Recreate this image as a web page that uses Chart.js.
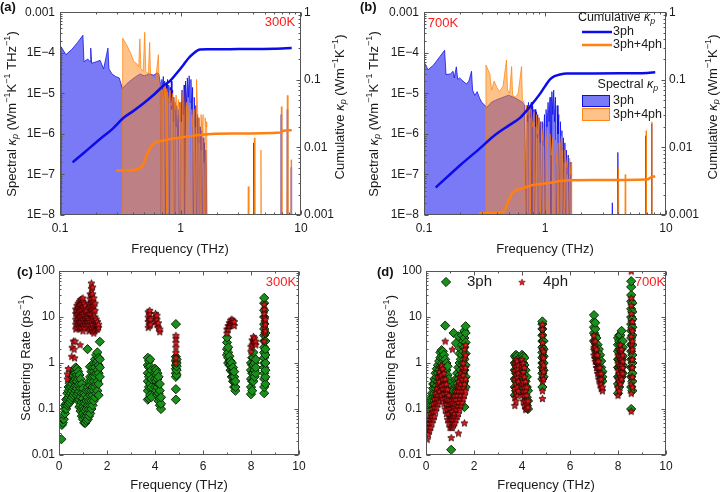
<!DOCTYPE html>
<html><head><meta charset="utf-8">
<style>
body{margin:0;width:720px;height:492px;position:relative;background:#fff;overflow:hidden;font-family:"Liberation Sans",Arial,sans-serif}
canvas{position:absolute}
.pl{position:absolute;font-weight:bold;font-size:13px;line-height:14px;color:#111}
</style>
<script src="https://cdn.jsdelivr.net/npm/chart.js@4.4.1/dist/chart.umd.min.js"></script>
</head><body>
<canvas id="ca" width="360" height="262" style="left:0;top:0"></canvas>
<canvas id="cb" width="360" height="262" style="left:360px;top:0"></canvas>
<canvas id="cc" width="360" height="242" style="left:0;top:250px"></canvas>
<canvas id="cd" width="360" height="242" style="left:360px;top:250px"></canvas>
<div class="pl" style="left:0;top:0">(a)</div>
<div class="pl" style="left:360px;top:0">(b)</div>
<div class="pl" style="left:17px;top:265px">(c)</div>
<div class="pl" style="left:377px;top:265px">(d)</div>
<script>
// ---------------- DATA ----------------
// Spectral kappa_p [frequency THz, Wm-1K-1THz-1] (1e-9 = below axis)
const specA_3ph = [[0.102,1e-9],[0.1021,1.4e-4],[0.112,9e-5],[0.125,1.2e-4],[0.14,1.8e-4],[0.155,2.7e-4],[0.158,6e-5],[0.17,7e-5],[0.178,6e-5],[0.18,1.3e-4],[0.183,5.5e-5],[0.2,6e-5],[0.215,6.5e-5],[0.23,4e-5],[0.25,1.3e-4],[0.255,4e-5],[0.27,3e-5],[0.29,2.6e-5],[0.31,2.4e-5],[0.33,1.3e-5],[0.35,1.6e-5],[0.38,2e-5],[0.42,2.5e-5],[0.46,3e-5],[0.5,2.7e-5],[0.55,3e-5],[0.6,2.8e-5],[0.64,3.2e-5],[0.66,3e-5],[0.68,1.8e-5],[0.69,1e-9],[0.70,2.2e-5],[0.71,1.2e-5],[0.72,2.6e-5],[0.73,8e-6],[0.74,2e-5],[0.75,1e-9],[0.76,1.8e-5],[0.77,1e-5],[0.78,2.2e-5],[0.79,6e-6],[0.80,1.6e-5],[0.81,1e-9],[0.82,1.4e-5],[0.83,6e-6],[0.84,2e-5],[0.85,4e-6],[0.86,1.2e-5],[0.87,2e-6],[0.88,8e-6],[0.89,1e-9],[0.90,6e-6],[0.92,1.5e-6],[0.93,5e-6],[0.95,8e-7],[0.96,4e-6],[0.98,1e-9],[0.99,6e-6],[1.01,2e-6],[1.03,1.2e-5],[1.05,3e-6],[1.07,1.6e-5],[1.08,1e-9],[1.10,2e-5],[1.12,5e-6],[1.14,2.4e-5],[1.16,8e-6],[1.18,2.7e-5],[1.20,6e-6],[1.22,2.2e-5],[1.24,3e-6],[1.26,1.4e-5],[1.28,1e-9],[1.30,8e-6],[1.32,1.5e-6],[1.34,5e-6],[1.36,1e-9],[1.38,3e-6],[1.40,6e-7],[1.42,2.5e-6],[1.44,1e-9],[1.46,1.5e-6],[1.48,4e-7],[1.50,1.2e-6],[1.52,1e-9],[1.54,8e-7],[1.56,2e-7],[1.58,6e-7],[1.60,1e-9],[1.62,4e-7],[1.64,1.5e-7],[1.66,1e-9],[4.0,1e-9],[4.05,6e-7],[4.1,1e-9],[6.8,1e-9],[6.85,3e-6],[6.9,1e-9],[7.65,1e-9],[7.7,4e-6],[7.75,1e-9],[8.25,1e-9],[8.3,1.5e-7],[8.35,1e-9]];
const specA_34 = [[0.33,1e-9],[0.331,2.3e-4],[0.36,1.5e-4],[0.39,9e-5],[0.41,6e-5],[0.43,5.5e-5],[0.45,4.5e-5],[0.46,2.2e-4],[0.47,4e-5],[0.49,3.5e-5],[0.505,3.2e-4],[0.515,3.5e-5],[0.54,3e-5],[0.555,1.8e-4],[0.565,2.8e-5],[0.59,2.5e-5],[0.62,2e-5],[0.655,9e-5],[0.665,1.8e-5],[0.68,1.5e-5],[0.70,1e-9],[0.71,1.2e-5],[0.73,1.6e-5],[0.74,8e-6],[0.76,1.3e-5],[0.77,1e-9],[0.78,1.1e-5],[0.80,6e-6],[0.82,1.2e-5],[0.84,5e-6],[0.86,1e-5],[0.87,1e-9],[0.88,8e-6],[0.90,4e-6],[0.92,9e-6],[0.94,3e-6],[0.96,7e-6],[0.98,2e-6],[1.00,6e-6],[1.02,1e-9],[1.04,8e-6],[1.06,1.5e-5],[1.08,3e-6],[1.10,1e-9],[1.12,6e-6],[1.15,2e-6],[1.18,5e-6],[1.21,1e-9],[1.24,4e-6],[1.27,1.5e-6],[1.30,4e-6],[1.33,1e-9],[1.36,2.2e-5],[1.39,3e-6],[1.42,2e-6],[1.45,1e-9],[1.48,3e-6],[1.51,1e-6],[1.54,3e-6],[1.57,1e-9],[1.60,2.5e-6],[1.63,1.5e-6],[1.65,2e-6],[1.66,1e-9],[3.6,1e-9],[3.65,5e-8],[3.7,1e-9],[4.05,1e-9],[4.1,8e-7],[4.15,1e-9],[4.6,1e-9],[4.65,4e-7],[4.7,1e-9],[6.8,1e-9],[6.87,4.7e-6],[6.95,1e-9],[7.6,1e-9],[7.7,8.9e-6],[7.8,1e-9],[8.25,1e-9],[8.3,2.3e-7],[8.35,1e-9]];
const specB_3ph = [[0.1,6e-5],[0.108,3.8e-5],[0.12,5e-5],[0.135,8e-5],[0.148,1.15e-4],[0.152,2.9e-5],[0.165,3e-5],[0.174,3.5e-5],[0.178,2.4e-5],[0.185,4.5e-5],[0.19,2.2e-5],[0.197,2.4e-5],[0.21,2e-5],[0.224,1.7e-5],[0.235,2e-5],[0.247,3.5e-5],[0.252,1.2e-5],[0.263,8.9e-6],[0.275,1.1e-5],[0.289,7.4e-6],[0.3,6e-6],[0.318,5.1e-6],[0.33,4.5e-6],[0.36,6e-6],[0.4,7e-6],[0.45,8e-6],[0.5,9e-6],[0.55,8e-6],[0.6,7e-6],[0.65,6e-6],[0.68,5e-6],[0.70,1e-9],[0.71,5e-6],[0.72,2e-6],[0.73,6e-6],[0.74,1e-9],[0.75,5e-6],[0.76,2.5e-6],[0.77,6e-6],[0.78,1e-9],[0.79,5e-6],[0.80,2e-6],[0.81,4e-6],[0.82,1e-9],[0.83,4e-6],[0.84,1.5e-6],[0.85,3.5e-6],[0.86,8e-7],[0.87,3e-6],[0.88,1e-9],[0.89,2.5e-6],[0.91,6e-7],[0.92,2e-6],[0.94,1e-9],[0.95,2e-6],[0.97,5e-7],[0.99,3e-6],[1.00,1e-9],[1.02,4e-6],[1.04,1.5e-6],[1.06,6e-6],[1.08,2e-6],[1.10,8e-6],[1.12,1e-9],[1.14,1.1e-5],[1.16,3e-6],[1.18,1.2e-5],[1.20,2e-6],[1.22,8e-6],[1.24,1e-9],[1.26,5e-6],[1.28,1e-6],[1.30,3e-6],[1.32,1e-9],[1.34,2e-6],[1.36,4e-7],[1.38,1.2e-6],[1.40,1e-9],[1.42,8e-7],[1.44,2e-7],[1.46,6e-7],[1.48,1e-9],[1.50,4e-7],[1.53,1e-7],[1.56,3e-7],[1.58,1e-9],[1.61,2e-7],[1.64,8e-8],[1.66,1e-9],[3.55,1e-9],[3.6,2e-8],[3.65,1e-9],[3.95,1e-9],[4.0,3.5e-7],[4.05,1e-9],[6.75,1e-9],[6.8,9e-7],[6.85,1e-9],[7.55,1e-9],[7.6,1.8e-6],[7.65,1e-9]];
const specB_34 = [[0.32,1e-9],[0.325,5e-5],[0.35,3e-5],[0.362,1.2e-5],[0.38,2e-5],[0.4,1.4e-5],[0.42,1.1e-5],[0.45,1.5e-5],[0.48,6.6e-5],[0.49,1.2e-5],[0.51,1e-5],[0.53,4.6e-5],[0.54,9e-6],[0.57,8e-6],[0.6,1e-5],[0.64,4.6e-5],[0.65,7e-6],[0.67,6e-6],[0.69,1e-9],[0.70,5e-6],[0.72,3e-6],[0.74,5e-6],[0.75,1e-9],[0.77,4e-6],[0.79,1.5e-6],[0.81,3.5e-6],[0.83,1e-9],[0.85,3e-6],[0.87,1e-6],[0.89,2.5e-6],[0.91,1e-9],[0.93,2e-6],[0.95,7e-7],[0.97,1.8e-6],[0.99,1e-9],[1.01,1.5e-6],[1.03,5e-7],[1.05,1.2e-6],[1.07,1e-9],[1.10,1e-6],[1.13,3e-7],[1.16,8e-7],[1.19,1e-9],[1.22,7e-7],[1.25,2e-7],[1.28,6e-7],[1.31,1e-9],[1.34,5e-7],[1.37,9e-7],[1.40,2e-7],[1.43,1e-9],[1.46,4e-7],[1.50,1.5e-7],[1.54,3e-7],[1.57,1e-9],[1.60,2.5e-7],[1.63,1e-7],[1.65,2e-7],[1.66,1e-9],[4.0,1e-9],[4.05,1.5e-7],[4.1,1e-9],[4.55,1e-9],[4.6,1e-7],[4.65,1e-9],[6.8,1e-9],[6.85,1.2e-6],[6.9,1e-9],[7.6,1e-9],[7.65,2e-6],[7.7,1e-9]];
// Cumulative kappa_p [frequency THz, Wm-1K-1]
const cumA_3ph = [[0.127,0.006],[0.16,0.0085],[0.215,0.0133],[0.27,0.0185],[0.335,0.0272],[0.41,0.035],[0.491,0.0446],[0.6,0.06],[0.72,0.0815],[0.818,0.096],[0.93,0.125],[1.06,0.167],[1.17,0.21],[1.28,0.245],[1.45,0.28],[1.7,0.283],[2.57,0.284],[4,0.285],[6,0.287],[8.37,0.295]];
const cumA_34 = [[0.292,0.00457],[0.38,0.0046],[0.461,0.00493],[0.5,0.006],[0.524,0.00767],[0.56,0.0098],[0.594,0.01125],[0.68,0.0124],[0.768,0.013],[1.0,0.014],[1.45,0.0153],[2.74,0.016],[6.8,0.0166],[6.95,0.0175],[8.37,0.0179]];
const cumB_3ph = [[0.125,0.00255],[0.2,0.0055],[0.288,0.0096],[0.373,0.0145],[0.5,0.021],[0.618,0.0271],[0.75,0.04],[0.909,0.0619],[1.0,0.08],[1.1,0.1016],[1.2,0.113],[1.33,0.12],[1.51,0.124],[2.5,0.124],[5,0.125],[7,0.126],[8.15,0.129]];
const cumB_34 = [[0.286,0.00106],[0.38,0.00108],[0.452,0.00112],[0.49,0.0015],[0.53,0.00205],[0.57,0.0023],[0.618,0.00242],[0.7,0.0026],[0.8,0.00279],[1.03,0.00294],[1.33,0.00318],[1.6,0.00328],[2.51,0.00329],[6.96,0.00335],[7.5,0.0036],[8.15,0.00375]];
// Scattering rates: columns [frequency THz, rate1, rate2, ...] (ps^-1)
const scat300_3ph = [[0.10,0.022],[0.12,0.045],[0.16,0.05,0.06],[0.20,0.06,0.075],[0.25,0.08,0.1,0.12],[0.30,0.1,0.13,0.16],[0.35,0.12,0.17,0.22],[0.40,0.13,0.18,0.25,0.3],[0.45,0.14,0.2,0.28,0.36],[0.50,0.16,0.22,0.3,0.42],[0.55,0.18,0.25,0.35,0.5],[0.60,0.2,0.28,0.4,0.55,0.65],[0.65,0.22,0.3,0.42,0.6,0.75],[0.70,0.25,0.32,0.45,0.62,0.8],[0.75,0.2,0.28,0.4,0.55,0.75],[0.80,0.15,0.22,0.32,0.45,0.65],[0.85,0.11,0.16,0.24,0.35,0.55],[0.90,0.09,0.12,0.18,0.28,0.45],[0.95,0.07,0.1,0.14,0.22,0.35],[1.00,0.06,0.08,0.11,0.17,0.28],[1.05,0.05,0.07,0.1,0.14,0.22],[1.10,0.05,0.065,0.09,0.13,0.2],[1.15,0.055,0.07,0.1,0.15,0.25],[1.19,2.0],[1.20,0.06,0.08,0.12,0.18,0.3],[1.25,0.07,0.1,0.15,0.25,0.4],[1.29,0.83],[1.30,0.08,0.12,0.2,0.32,0.5],[1.35,0.1,0.15,0.25,0.4,0.65],[1.40,0.12,0.2,0.3,0.5,0.8],[1.45,0.15,0.25,0.4,0.65,1.0],[1.50,0.18,0.3,0.5,0.8,1.2],[1.55,0.22,0.35,0.6,1.0,1.5],[1.60,0.25,0.4,0.7,1.1,1.7],[1.65,0.2,0.35,0.6,0.9,1.3],[1.70,0.5,0.8,1.2,2.9],
 [3.70,0.16,0.25,0.4,0.6,0.9,1.3],[3.75,0.17,0.3,0.5,0.8,1.1],[3.80,0.2,0.35,0.55,0.85,1.2],[3.85,0.18,0.3,0.45,0.7],[4.00,0.3,0.45,0.6,0.75],[4.05,0.25,0.4,0.55,0.7],[4.10,0.2,0.3,0.45,0.6],[4.15,0.15,0.22,0.35,0.5],[4.20,0.12,0.17,0.25,0.35],[4.25,0.1,0.13,0.18],
 [4.87,0.16,0.27,0.5,0.6,0.75,0.9,1.1,1.37,7.0],[4.90,0.55,0.7,0.85,1.0,1.2],
 [7.00,1.5,2.0,2.8,3.6],[7.05,1.0,1.3,1.7,2.2],[7.10,0.9,1.1,1.4],[7.15,0.7,0.9,1.1],[7.20,0.5,0.65,0.8,1.0],[7.25,0.4,0.5,0.65,0.8],[7.30,0.3,0.4,0.5,0.65],[7.35,0.25,0.3,0.4],
 [8.00,0.21,0.3,0.45,0.7,1.0],[8.05,0.25,0.4,0.6,0.9,1.3],[8.10,0.4,0.6,0.9,1.3,1.7],[8.15,0.5,0.7,1.0],[8.20,0.6,0.8,1.2],
 [8.55,0.22,0.3,0.45,0.6,0.8,1.0,1.3,1.7,2.2,3,4,5.5,7,10,14,20,26],[8.60,0.35,0.5,0.7,1.0,1.5,2.0,3.0,4.5]];
const scat300_4ph = [[0.35,0.45,0.58],[0.39,0.76],[0.53,1.4],[0.55,2.2],[0.60,3.0],[0.63,2.0],[0.65,1.3],[0.67,3.0],[0.88,2.5],
 [0.70,5.5,7,9,12,15],[0.75,6,8,11,14,18],[0.80,7,9,12,16,20],[0.85,6,8,10,13,18,22],[0.90,5.5,7.5,10,14,19,24],[0.95,6,8,11,15,20,25],[1.00,5,7,9,12,17,22,26],[1.05,6,8,11,15,20],[1.10,7,9,13,18],[1.15,8,10,14],[1.20,6,8,10],[1.25,5,7,9,12,16,20],[1.30,5.5,8,12,18,25,32],[1.35,6,9,14,20,30,42,55],[1.40,5,7,10,15,22,32,45],[1.45,4.5,6,9,13,18,26],[1.50,5,7,10,14,20],[1.55,5.5,7,9],[1.60,5.5,6.5,8],[1.65,6,7],
 [3.72,6,8,10,13],[3.78,6.5,9,12,14],[3.82,7,9],[4.02,8,10,12],[4.08,7,9,11],[4.14,6,7.5],[4.20,4.8,5.5],
 [4.87,1.0,1.3,1.7,2.2,2.8,3.5,4.0],
 [7.00,4.5,5.5],[7.05,5.5,6.5],[7.10,6.5,7.5],[7.15,7.5,8.5],[7.20,7.5,9],[7.25,7,8.5],[7.30,6.5,8],
 [8.00,1.8,2.3],[8.05,2.5,3.2],[8.10,3.0,3.8],[8.15,2.8,3.5],[8.20,2.5,3.0],
 [8.55,3,4.5,6,8,10,12,15,19],[8.60,5,7,9]];
const scat700_3ph = [[0.05,0.05,0.065,0.08],[0.10,0.06,0.08,0.1],[0.15,0.07,0.1,0.13],[0.20,0.09,0.12,0.17],[0.25,0.1,0.15,0.22],[0.30,0.12,0.18,0.28,0.35],[0.35,0.15,0.22,0.35,0.45],[0.40,0.18,0.28,0.42,0.6],[0.45,0.2,0.32,0.5,0.75],[0.50,0.25,0.4,0.6,0.9],[0.55,0.3,0.45,0.7,1.1],[0.60,0.35,0.55,0.85,1.3,1.7],[0.65,0.4,0.6,0.95,1.4,1.9],[0.70,0.35,0.55,0.85,1.3,1.8],[0.75,0.3,0.45,0.7,1.1,1.5],[0.80,0.25,0.35,0.55,0.85,1.2,6.5],[0.85,0.2,0.28,0.45,0.7,1.0],[0.90,0.15,0.22,0.35,0.55,0.85],[0.95,0.12,0.18,0.28,0.45],[1.00,0.09,0.13,0.2,0.35],[1.05,0.013,0.07,0.1,0.16,0.25],[1.10,0.06,0.09,0.13,0.2],[1.15,0.065,0.1,0.15,0.25,4.5],[1.20,0.08,0.12,0.2,0.35],[1.25,0.1,0.15,0.25,0.45,2.7],[1.30,0.12,0.2,0.35,0.6],[1.35,0.15,0.25,0.45,0.8,3.8],[1.40,0.2,0.3,0.55,1.0,1.6],[1.45,0.25,0.4,0.7,1.2,2.0],[1.50,0.3,0.5,0.9,1.5,2.5,4],[1.55,0.35,0.6,1.0,1.8,3.0],[1.60,0.11,0.4,0.7,1.2,2.2,3.5,5],[1.65,0.3,0.5,0.9,1.6,2.8,4.5,6.3],
 [3.70,0.2,0.3,0.45,0.7,1.0,1.4],[3.75,0.25,0.4,0.6,0.9,1.3,1.5],[3.80,0.3,0.5,0.8,1.1,1.4],[3.85,0.35,0.6,0.9,1.2],[4.00,0.3,0.5,0.8,1.2,1.5],[4.05,0.25,0.4,0.7,1.0,1.4],[4.10,0.2,0.35,0.55,0.9,1.3],[4.15,0.15,0.25,0.4,0.7],[4.20,0.12,0.18,0.3,0.5],[4.25,0.1,0.15,0.25],
 [4.85,0.3,0.45,0.6,0.8,1.0,1.3,1.7,2.2,3.0,4.0,5.5,7.0,8.0],[4.90,0.5,0.7,1.0,1.4,2.0,3.0],
 [7.00,3,4.5,6,8,11],[7.05,2,2.8,4,5.5,7.5],[7.10,1.3,1.8,2.5,3.5],[7.15,1.0,1.3,1.8,2.5],[7.20,0.8,1.0,1.4,2.0],[7.25,0.6,0.8,1.1,1.5],[7.30,0.45,0.6,0.8,1.1],[7.35,0.4,0.5,0.65],
 [8.00,0.22,0.35,0.5,0.8,1.2,1.8,2.5,3.5],[8.05,0.3,0.5,0.8,1.2,2.0,3.0,4.0],[8.10,0.4,0.6,1.0,1.5,2.5,4.0],[8.15,0.5,0.8,1.2,2.0,3.0,5.0],[8.20,0.6,0.9,1.4,2.2,3.0],
 [8.55,0.1,0.3,0.5,0.8,1.2,1.8,2.5,3.5,5,7,10,15,22,30,45,60],[8.60,0.25,0.4,0.6,1.0,1.5,2.5,4,6,9,13,20]];
const scat700_4ph = [[0.05,0.022,0.03],[0.10,0.028,0.04],[0.15,0.035,0.05,0.06],[0.20,0.04,0.06,0.08],[0.25,0.05,0.07,0.1],[0.30,0.06,0.09,0.13],[0.35,0.07,0.11,0.17],[0.40,0.09,0.14,0.22],[0.45,0.11,0.17,0.28],[0.50,0.13,0.2,0.35,0.5],[0.55,0.15,0.25,0.4,0.65],[0.60,0.18,0.3,0.5,0.8],[0.65,0.2,0.32,0.55,0.9],[0.70,0.17,0.28,0.45,0.75],[0.75,0.13,0.22,0.35,0.6],[0.80,0.1,0.17,0.28,0.45,3.0],[0.85,0.08,0.13,0.22,0.35],[0.90,0.06,0.1,0.16,0.27],[0.95,0.05,0.08,0.13,0.2],[1.00,0.04,0.06,0.1,0.15],[1.05,0.024,0.04,0.06,0.09,0.13],[1.10,0.04,0.06,0.09,0.14,2.0],[1.15,0.045,0.07,0.11,0.17],[1.20,0.05,0.08,0.13,0.2],[1.25,0.06,0.1,0.16,0.25],[1.30,0.07,0.12,0.2,0.32],[1.35,0.03,0.08,0.14,0.25,0.4],[1.40,0.1,0.17,0.3,0.5],[1.45,0.12,0.2,0.35,0.6],[1.50,0.14,0.25,0.45,0.8],[1.55,0.17,0.3,0.55,1.0],[1.60,0.05,0.2,0.35,0.7,1.3,2.0],[1.65,0.25,0.45,0.8,1.5,2.5],
 [3.70,0.12,0.18,0.28,0.45,0.7,1.0],[3.75,0.15,0.22,0.35,0.55,0.85,1.2],[3.80,0.2,0.3,0.5,0.75,1.1],[3.85,0.25,0.4,0.6,0.9],[4.00,0.2,0.35,0.55,0.85,1.2],[4.05,0.15,0.25,0.4,0.65,1.0],[4.10,0.12,0.2,0.3,0.5,0.8],[4.15,0.1,0.15,0.25,0.4],[4.20,0.1,0.13,0.2,0.3],[4.25,0.11,0.15],
 [4.85,0.17,0.25,0.4,0.55,0.75,1.0,1.4,2.0,2.8,4.0,5.5,7.0],[4.90,0.45,0.65,0.9,1.3,1.8],
 [7.00,1.5,2.2,3,4],[7.05,1.1,1.6,2.2,3.0],[7.10,0.8,1.1,1.5,2.0],[7.15,0.6,0.8,1.1,1.5],[7.20,0.45,0.6,0.8,1.1],[7.25,0.35,0.45,0.6,0.8],[7.30,0.28,0.35,0.45,0.6],[7.35,0.25,0.3],
 [8.00,0.2,0.3,0.45,0.7,1.0,1.5],[8.05,0.25,0.4,0.6,0.9,1.4,2.0],[8.10,0.35,0.5,0.8,1.2,1.8,2.5],[8.15,0.45,0.65,0.9,1.3,2.0],[8.20,0.6,0.8,1.1,1.5],
 [8.55,0.09,0.22,0.35,0.5,0.8,1.2,1.8,2.6,3.8,5.5,8,12,18,26,100],[8.60,0.3,0.5,0.8,1.2,2,3,5,8]];
// Tick labels
const specTickLabels = {'-3':'0.001','-4':'1E\u22124','-5':'1E\u22125','-6':'1E\u22126','-7':'1E\u22127','-8':'1E\u22128'};
const cumTickLabels = {'0':'1','-1':'0.1','-2':'0.01','-3':'0.001'};
const freqLogTickLabels = {'-1':'0.1','0':'1','1':'10'};
const rateTickLabels = {'2':'100','1':'10','0':'1','-1':'0.1','-2':'0.01'};

// ---------------- STYLE / HELPERS ----------------
const FONT = '"Liberation Sans", Arial, Helvetica, sans-serif';
const TXT = '#1a1a1a';
const BLUE_LINE = '#0c0cea', ORANGE_LINE = '#ff7f12';
const BLUE_FILL = 'rgba(0,0,240,0.52)', BLUE_EDGE = 'rgba(0,0,235,0.9)';
const OR_FILL = 'rgba(255,135,20,0.5)', OR_EDGE = 'rgba(255,125,0,0.85)';
const GREEN = '#1b8f1b', GREEN_EDGE = '#072a07';

const pts = a => a.map(p => ({x:p[0], y:p[1]}));
const cols = a => a.flatMap(c => c.slice(1).map(y => ({x:c[0], y})));

function makeStar(size, fill, stroke, lw){
  const c = document.createElement('canvas'); c.width = c.height = size;
  const g = c.getContext('2d'); const cx = size/2, cy = size/2 + size*0.05;
  const R = size/2 - lw, r = R*0.45; g.beginPath();
  for (let i=0;i<10;i++){ const a=-Math.PI/2+i*Math.PI/5, rr=i%2?r:R; g.lineTo(cx+rr*Math.cos(a), cy+rr*Math.sin(a)); }
  g.closePath(); g.fillStyle=fill; g.fill(); g.lineWidth=lw; g.strokeStyle=stroke; g.stroke(); return c;
}
const STAR = makeStar(9, '#e8191e', '#2a0000', 0.8);
const STAR_LEG = makeStar(8, '#e8191e', '#5a0000', 0.5);

function logLabel(map){ return v => { const e=Math.log10(v), r=Math.round(e); if (Math.abs(e-r)>1e-6) return ''; const s=map[String(r)]; return s===undefined?'':s; }; }

function tickList(scale){
  const out=[]; const min=scale.min, max=scale.max;
  if (scale.type==='logarithmic'){
    for (let e=Math.floor(Math.log10(min)); e<=Math.ceil(Math.log10(max)); e++)
      for (let m=1;m<10;m++){ const v=m*Math.pow(10,e); if (v>=min*0.9999 && v<=max*1.0001) out.push([v,m===1]); }
  } else { for (let v=min; v<=max+1e-9; v+=1) out.push([v, Math.round(v)%2===0]); }
  return out;
}
const frameTicks = { id:'frameTicks', afterDatasetsDraw(chart){
  const {ctx, chartArea:a, scales} = chart; ctx.save();
  ctx.strokeStyle='#555'; ctx.lineWidth=1;
  const L=Math.round(a.left)+0.5, R=Math.round(a.right)-0.5, T=Math.round(a.top)+0.5, B=Math.round(a.bottom)-0.5;
  ctx.strokeRect(L,T,R-L,B-T);
  const yR = scales.y2 || scales.y;
  ctx.beginPath();
  for (const [v,maj] of tickList(scales.x)){ const p=Math.round(scales.x.getPixelForValue(v))+0.5, len=maj?4:2;
    ctx.moveTo(p,B); ctx.lineTo(p,B-len); ctx.moveTo(p,T); ctx.lineTo(p,T+len); }
  for (const [v,maj] of tickList(scales.y)){ const p=Math.round(scales.y.getPixelForValue(v))+0.5, len=maj?4:2;
    ctx.moveTo(L,p); ctx.lineTo(L+len,p); }
  for (const [v,maj] of tickList(yR)){ const p=Math.round(yR.getPixelForValue(v))+0.5, len=maj?4:2;
    ctx.moveTo(R,p); ctx.lineTo(R-len,p); }
  ctx.stroke(); ctx.restore(); }};

function drawRich(ctx, it){
  const size=it.size||13; ctx.save(); ctx.translate(it.x,it.y); ctx.rotate(it.rot||0);
  const segs = it.parts.map(p => { const st=p[1]||''; const small=(st==='sub'||st==='sup'||st==='isub');
    const fs=small?size*0.7:size; const font=((st==='i'||st==='isub')?'italic ':'')+(it.bold?'bold ':'')+fs+'px '+FONT;
    ctx.font=font; return {t:p[0], font, w:ctx.measureText(p[0]).width, dy: st==='sup'?-size*0.36:(small?size*0.25:0)}; });
  const tot=segs.reduce((s,g)=>s+g.w,0);
  let x = it.align==='left'?0:(it.align==='right'?-tot:-tot/2);
  ctx.fillStyle=it.color||TXT; ctx.textBaseline='middle'; ctx.textAlign='left';
  for (const g of segs){ ctx.font=g.font; ctx.fillText(g.t,x,g.dy); x+=g.w; }
  ctx.restore();
}
const richText = { id:'richText', afterDraw(chart, args, opts){
  const ctx=chart.ctx; const ds=chart.data.datasets;
  for (const it of (opts.items||[])){
    if (it.type==='line'){ ctx.save(); ctx.strokeStyle=ds[it.ds].borderColor; ctx.lineWidth=ds[it.ds].borderWidth; ctx.beginPath(); ctx.moveTo(it.x1,it.y); ctx.lineTo(it.x2,it.y); ctx.stroke(); ctx.restore(); }
    else if (it.type==='box'){ ctx.save(); ctx.fillStyle=ds[it.ds].backgroundColor; ctx.fillRect(it.x,it.y,it.w,it.h); ctx.strokeStyle=ds[it.ds].borderColor; ctx.lineWidth=1; ctx.strokeRect(it.x+0.5,it.y+0.5,it.w-1,it.h-1); ctx.restore(); }
    else if (it.type==='point'){ const d=ds[it.ds]; ctx.save(); ctx.fillStyle=d.backgroundColor||'#000'; ctx.strokeStyle=d.borderColor||'#000'; ctx.lineWidth=d.borderWidth||1;
      Chart.helpers.drawPoint(ctx,{pointStyle:it.style||d.pointStyle, radius:it.r||d.pointRadius, rotation:0, borderWidth:d.borderWidth||1}, it.x, it.y); ctx.restore(); }
    else drawRich(ctx,it);
  } }};

const SPEC_T = [['Spectral '],['\u03ba','i'],['p','isub'],[' (Wm'],['\u22121','sup'],['K'],['\u22121','sup'],[' THz'],['\u22121','sup'],[')']];
const CUM_T = [['Cumulative '],['\u03ba','i'],['p','isub'],[' (Wm'],['\u22121','sup'],['K'],['\u22121','sup'],[')']];
const FREQ_T = [['Frequency (THz)']];
const RATE_T = [['Scattering Rate (ps'],['\u22121','sup'],[')']];
const ROT = -Math.PI/2;
const tickFont = {family:FONT, size:12};

function specChart(id, left, right, s3, s34, c3, c34, items){
  return new Chart(document.getElementById(id), {
    type:'line',
    data:{datasets:[
      {data:pts(c3), yAxisID:'y2', borderColor:BLUE_LINE, borderWidth:2.5, pointRadius:0, cubicInterpolationMode:'monotone', fill:false, order:0},
      {data:pts(c34), yAxisID:'y2', borderColor:ORANGE_LINE, borderWidth:2.5, pointRadius:0, cubicInterpolationMode:'monotone', fill:false, order:1},
      {data:pts(s34), yAxisID:'y', borderColor:OR_EDGE, backgroundColor:OR_FILL, borderWidth:0.8, pointRadius:0, tension:0, fill:'start', order:2},
      {data:pts(s3), yAxisID:'y', borderColor:BLUE_EDGE, backgroundColor:BLUE_FILL, borderWidth:0.8, pointRadius:0, tension:0, fill:'start', order:3}
    ]},
    options:{responsive:false, animation:false, devicePixelRatio:1, events:[],
      layout:{padding:{top:6,left:0,right:0,bottom:0}},
      plugins:{legend:{display:false}, tooltip:{enabled:false}, richText:{items}},
      scales:{
        x:{type:'logarithmic', min:0.1, max:10, grid:{display:false,drawTicks:false}, border:{display:false},
           ticks:{autoSkip:false, maxRotation:0, padding:6, font:tickFont, color:TXT, callback:logLabel(freqLogTickLabels)},
           afterFit:s=>{s.height=47;}},
        y:{type:'logarithmic', position:'left', min:1e-8, max:1e-3, grid:{display:false,drawTicks:false}, border:{display:false},
           ticks:{autoSkip:false, padding:5, font:tickFont, color:TXT, callback:logLabel(specTickLabels)},
           afterFit:s=>{s.width=left;}},
        y2:{type:'logarithmic', position:'right', min:1e-3, max:1, grid:{display:false,drawTicks:false}, border:{display:false},
           ticks:{autoSkip:false, padding:3, font:tickFont, color:TXT, callback:logLabel(cumTickLabels)},
           afterFit:s=>{s.width=right;}}
      }},
    plugins:[frameTicks, richText]
  });
}

function scatChart(id, left, right, g, r, items){
  return new Chart(document.getElementById(id), {
    type:'scatter',
    data:{datasets:[
      {data:cols(r), pointStyle:STAR, pointRadius:4.5, backgroundColor:'#e8191e', borderColor:'#2a0000', borderWidth:1, order:0},
      {data:cols(g), pointStyle:'rectRot', pointRadius:4.6, backgroundColor:GREEN, borderColor:GREEN_EDGE, borderWidth:1, order:1}
    ]},
    options:{responsive:false, animation:false, devicePixelRatio:1, events:[],
      layout:{padding:{top:21,left:0,right:right,bottom:0}},
      plugins:{legend:{display:false}, tooltip:{enabled:false}, richText:{items}},
      scales:{
        x:{type:'linear', min:0, max:10, grid:{display:false,drawTicks:false}, border:{display:false},
           ticks:{stepSize:2, autoSkip:false, maxRotation:0, padding:4, font:tickFont, color:TXT},
           afterFit:s=>{s.height=37;}},
        y:{type:'logarithmic', min:0.01, max:100, grid:{display:false,drawTicks:false}, border:{display:false},
           ticks:{autoSkip:false, padding:4, font:tickFont, color:TXT, callback:logLabel(rateTickLabels)},
           afterFit:s=>{s.width=left;}}
      }},
    plugins:[frameTicks, richText]
  });
}

specChart('ca', 60, 59, specA_3ph, specA_34, cumA_3ph, cumA_34, [
  {x:12, y:114, rot:ROT, parts:SPEC_T},
  {x:340, y:107, rot:ROT, parts:CUM_T},
  {x:180, y:249, parts:FREQ_T},
  {x:280, y:22, parts:[['300K']], color:'#ff1a1a'}
]);
specChart('cb', 64, 54, specB_3ph, specB_34, cumB_3ph, cumB_34, [
  {x:14, y:114, rot:ROT, parts:SPEC_T},
  {x:353, y:107, rot:ROT, parts:CUM_T},
  {x:185, y:249, parts:FREQ_T},
  {x:83, y:23, parts:[['700K']], color:'#ff1a1a'},
  {x:295, y:18, align:'right', size:12.5, parts:[['Cumulative '],['\u03ba','i'],['p','isub']]},
  {type:'line', ds:0, x1:222, x2:252, y:32},
  {x:253, y:32, align:'left', size:12.5, parts:[['3ph']]},
  {type:'line', ds:1, x1:222, x2:252, y:45},
  {x:253, y:45, align:'left', size:12.5, parts:[['3ph+4ph']]},
  {x:298, y:85, align:'right', size:12.5, parts:[['Spectral '],['\u03ba','i'],['p','isub']]},
  {type:'box', ds:3, x:222, y:95, w:28, h:12},
  {x:253, y:101, align:'left', size:12.5, parts:[['3ph']]},
  {type:'box', ds:2, x:222, y:108, w:28, h:13},
  {x:253, y:115, align:'left', size:12.5, parts:[['3ph+4ph']]}
]);
scatChart('cc', 59, 61, scat300_3ph, scat300_4ph, [
  {x:26, y:108, rot:ROT, parts:RATE_T},
  {x:179, y:235, parts:FREQ_T},
  {x:281, y:32, parts:[['300K']], color:'#ff1a1a'}
]);
scatChart('cd', 66, 54, scat700_3ph, scat700_4ph, [
  {x:31, y:108, rot:ROT, parts:RATE_T},
  {x:186, y:235, parts:FREQ_T},
  {x:290, y:32, parts:[['700K']], color:'#ff1a1a'},
  {type:'point', ds:1, x:86, y:32},
  {x:107, y:32, align:'left', size:15, parts:[['3ph']]},
  {type:'point', ds:0, x:162, y:32, style:STAR_LEG},
  {x:183, y:32, align:'left', size:15, parts:[['4ph']]}
]);
</script>
</body></html>
